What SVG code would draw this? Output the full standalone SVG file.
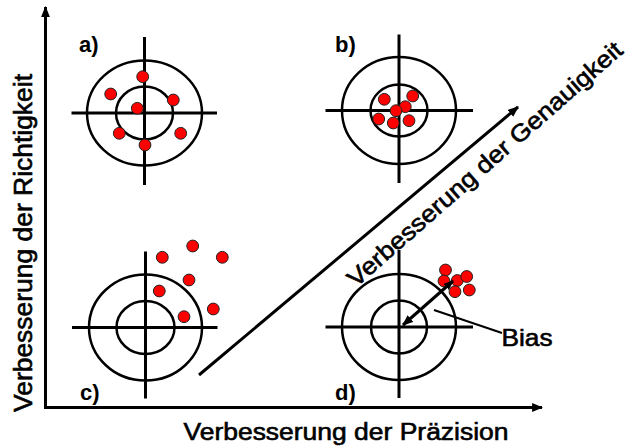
<svg xmlns="http://www.w3.org/2000/svg" width="630" height="446" viewBox="0 0 630 446">
  <style>
    .ring { fill: none; stroke: #000; stroke-width: 2.5; }
    .cross { stroke: #000; stroke-width: 3; fill: none; }
    .dot { fill: #ff0000; stroke: #222; stroke-width: 1; }
    .line { stroke: #000; stroke-width: 3; fill: none; }
    .txt { font-family: "Liberation Sans", Arial, sans-serif; fill: #000; stroke: #000; stroke-width: 0.6; }
    .lbl { font-family: "Liberation Sans", Arial, sans-serif; font-weight: bold; font-size: 22px; fill: #000; }
  </style>
  <defs>
    <marker id="ah" viewBox="0 0 10 8" refX="9" refY="4" markerWidth="11" markerHeight="9" markerUnits="userSpaceOnUse" orient="auto">
      <path d="M0,0 L10,4 L0,8 z" fill="#000"/>
    </marker>
    <marker id="ahs" viewBox="0 0 10 8" refX="9" refY="4" markerWidth="10" markerHeight="8" markerUnits="userSpaceOnUse" orient="auto-start-reverse">
      <path d="M0,0 L10,4 L0,8 z" fill="#000"/>
    </marker>
  </defs>

  <g id="connectors">
    <line class="line" x1="45.5" y1="409" x2="45.5" y2="7" marker-end="url(#ah)"/>
    <line class="line" x1="44" y1="407.5" x2="542" y2="407.5" marker-end="url(#ah)"/>
    <line class="line" x1="199" y1="375" x2="518" y2="107" marker-end="url(#ah)"/>
  </g>

  <g id="target-a">
    <ellipse class="ring" cx="144.5" cy="113" rx="57.5" ry="52.5"/>
    <ellipse class="ring" cx="144.5" cy="113" rx="28.5" ry="26.5"/>
    <line class="cross" x1="144.5" y1="37" x2="144.5" y2="185"/>
    <line class="cross" x1="71.5" y1="113" x2="217" y2="113"/>
    <circle class="dot" cx="142.7" cy="76.7" r="5.9"/>
    <circle class="dot" cx="110.7" cy="94" r="5.9"/>
    <circle class="dot" cx="173.3" cy="100" r="5.9"/>
    <circle class="dot" cx="137.3" cy="108.3" r="5.9"/>
    <circle class="dot" cx="119.3" cy="133.3" r="5.9"/>
    <circle class="dot" cx="180.7" cy="133.3" r="5.9"/>
    <circle class="dot" cx="145" cy="145" r="5.9"/>
    <text class="lbl" x="79" y="52">a)</text>
  </g>

  <g id="target-b">
    <ellipse class="ring" cx="399" cy="110.5" rx="57" ry="53.5"/>
    <ellipse class="ring" cx="399" cy="110.5" rx="28.5" ry="26"/>
    <line class="cross" x1="399" y1="34.5" x2="399" y2="183"/>
    <line class="cross" x1="325.5" y1="110.5" x2="473" y2="110.5"/>
    <circle class="dot" cx="384.3" cy="99.3" r="5.9"/>
    <circle class="dot" cx="412.7" cy="96" r="5.9"/>
    <circle class="dot" cx="405.3" cy="106.7" r="5.9"/>
    <circle class="dot" cx="396" cy="110.7" r="5.9"/>
    <circle class="dot" cx="378.7" cy="119" r="5.9"/>
    <circle class="dot" cx="393.3" cy="123" r="5.9"/>
    <circle class="dot" cx="409" cy="120.7" r="5.9"/>
    <text class="lbl" x="335" y="52">b)</text>
  </g>

  <g id="target-c">
    <ellipse class="ring" cx="145.5" cy="327.5" rx="56.5" ry="53"/>
    <ellipse class="ring" cx="145.5" cy="327.5" rx="29" ry="26.5"/>
    <line class="cross" x1="145.5" y1="251.5" x2="145.5" y2="398.5"/>
    <line class="cross" x1="72" y1="327.5" x2="217.5" y2="327.5"/>
    <circle class="dot" cx="162.3" cy="257.3" r="5.9"/>
    <circle class="dot" cx="192.7" cy="246" r="5.9"/>
    <circle class="dot" cx="222.3" cy="257.3" r="5.9"/>
    <circle class="dot" cx="189" cy="280" r="5.9"/>
    <circle class="dot" cx="159.3" cy="291" r="5.9"/>
    <circle class="dot" cx="213.3" cy="309" r="5.9"/>
    <circle class="dot" cx="184" cy="316.7" r="5.9"/>
    <text class="lbl" x="80" y="400">c)</text>
  </g>

  <g id="target-d">
    <ellipse class="ring" cx="399" cy="327" rx="57" ry="53"/>
    <ellipse class="ring" cx="399" cy="327" rx="28" ry="26.5"/>
    <line class="cross" x1="399" y1="250" x2="399" y2="398"/>
    <line class="cross" x1="325.5" y1="327" x2="473" y2="327"/>
    <circle class="dot" cx="445.5" cy="270" r="5.9"/>
    <circle class="dot" cx="444" cy="281" r="5.9"/>
    <circle class="dot" cx="457.3" cy="280.5" r="5.9"/>
    <circle class="dot" cx="466.7" cy="276.5" r="5.9"/>
    <circle class="dot" cx="455" cy="291.7" r="5.9"/>
    <circle class="dot" cx="469.3" cy="290" r="5.9"/>
    <line class="line" x1="453" y1="281" x2="403" y2="325" marker-start="url(#ahs)" marker-end="url(#ah)"/>
    <text class="lbl" x="335" y="400">d)</text>
  </g>

  <g id="bias">
    <line x1="434" y1="310" x2="502" y2="333" stroke="#000" stroke-width="2"/>
    <text class="txt" x="501.5" y="346" font-size="24" textLength="51" lengthAdjust="spacingAndGlyphs">Bias</text>
  </g>

  <g id="axis-labels">
    <text class="txt" transform="translate(31.5,412) rotate(-90)" font-size="26" textLength="338" lengthAdjust="spacingAndGlyphs">Verbesserung der Richtigkeit</text>
    <text class="txt" x="183.5" y="440" font-size="23.5" textLength="325" lengthAdjust="spacingAndGlyphs">Verbesserung der Präzision</text>
    <text class="txt" transform="translate(356,288) rotate(-41.3)" font-size="24" textLength="357" lengthAdjust="spacingAndGlyphs">Verbesserung der Genauigkeit</text>
  </g>
</svg>
